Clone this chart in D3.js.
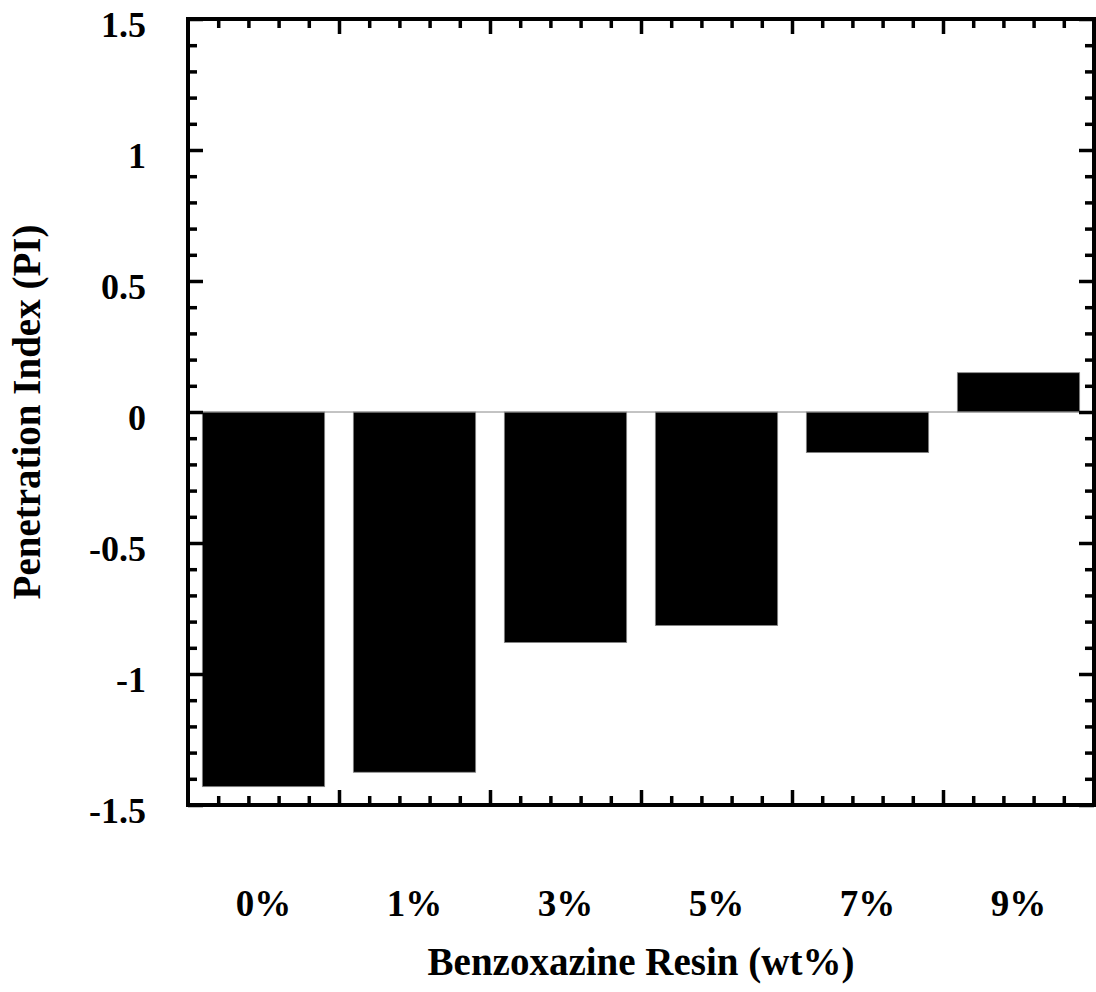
<!DOCTYPE html>
<html>
<head>
<meta charset="utf-8">
<script src="https://cdnjs.cloudflare.com/ajax/libs/d3/7.8.4/d3.min.js"></script>
<style>
  html, body { margin: 0; padding: 0; background: #fff; }
  svg text { font-family: "Liberation Serif", "Times New Roman", serif; font-weight: bold; fill: #000; }
  .axis path { display: none; }
  .axis line { stroke: #000; stroke-width: 3.5; }
</style>
</head>
<body>
<div id="chart"></div>
<script>
// data
const categories = ["0%", "1%", "3%", "5%", "7%", "9%"];
const piValues = [-1.43, -1.375, -0.88, -0.815, -0.155, 0.15];
const yMajor = [-1.5, -1, -0.5, 0, 0.5, 1, 1.5];
const yLabels = ["-1.5", "-1", "-0.5", "0", "0.5", "1", "1.5"];

(function () {
  const W = 1096, H = 992;
  const mLeft = 188, mRight = 1094, mTop = 19, mBottom = 805;

  const svg = d3.select("#chart").append("svg")
    .attr("width", W).attr("height", H);

  // scales
  const y = d3.scaleLinear().domain([-1.5, 1.5]).range([mBottom, mTop]);
  const xLin = d3.scaleLinear().domain([0, 6]).range([mLeft, mRight]);
  const x = d3.scaleBand().domain(categories).range([mLeft, mRight])
    .paddingInner(0.19).paddingOuter(0.095);

  // minor / major tick values
  const yMinor = d3.range(-15, 16).map(d => d / 10)
    .filter(d => Math.abs(d * 2 - Math.round(d * 2)) > 1e-6);
  const xMajor = [1, 2, 3, 4, 5];
  const xMinor = d3.range(1, 30).map(d => d / 5)
    .filter(d => Math.abs(d - Math.round(d)) > 1e-6);

  // bars
  svg.append("g").selectAll("rect")
    .data(piValues)
    .join("rect")
    .attr("x", (d, i) => x(categories[i]))
    .attr("width", x.bandwidth())
    .attr("y", d => y(Math.max(0, d)))
    .attr("height", d => Math.abs(y(d) - y(0)))
    .attr("fill", "#000")
    .attr("stroke", "#888")
    .attr("stroke-width", 0.8);

  // zero line across the bars
  svg.append("line")
    .attr("x1", x(categories[0]))
    .attr("x2", x(categories[categories.length - 1]) + x.bandwidth())
    .attr("y1", y(0)).attr("y2", y(0))
    .attr("stroke", "#888").attr("stroke-width", 1);

  // ticks on all four sides, pointing inward
  function ticks(axisFn, scale, values, size, transform) {
    svg.append("g").attr("class", "axis").attr("transform", transform)
      .call(axisFn(scale).tickValues(values).tickSize(size).tickFormat(""));
  }
  ticks(d3.axisLeft, y, yMinor, -9, `translate(${mLeft},0)`);
  ticks(d3.axisLeft, y, yMajor, -15, `translate(${mLeft},0)`);
  ticks(d3.axisRight, y, yMinor, -9, `translate(${mRight},0)`);
  ticks(d3.axisRight, y, yMajor, -15, `translate(${mRight},0)`);
  ticks(d3.axisBottom, xLin, xMinor, -9, `translate(0,${mBottom})`);
  ticks(d3.axisBottom, xLin, xMajor, -15, `translate(0,${mBottom})`);
  ticks(d3.axisTop, xLin, xMinor, -9, `translate(0,${mTop})`);
  ticks(d3.axisTop, xLin, xMajor, -15, `translate(0,${mTop})`);

  // frame
  svg.append("rect")
    .attr("x", mLeft).attr("y", mTop)
    .attr("width", mRight - mLeft).attr("height", mBottom - mTop)
    .attr("fill", "none").attr("stroke", "#000").attr("stroke-width", 4);

  // y tick labels
  svg.append("g").selectAll("text")
    .data(yMajor)
    .join("text")
    .attr("x", 146)
    .attr("y", d => y(d) + 18)
    .attr("text-anchor", "end")
    .style("font-size", "36px")
    .text((d, i) => yLabels[i]);

  // category labels
  svg.append("g").selectAll("text")
    .data(categories)
    .join("text")
    .attr("x", d => x(d) + x.bandwidth() / 2)
    .attr("y", 916)
    .attr("text-anchor", "middle")
    .style("font-size", "37px")
    .text(d => d);

  // axis titles
  svg.append("text")
    .attr("x", (mLeft + mRight) / 2)
    .attr("y", 975)
    .attr("text-anchor", "middle")
    .style("font-size", "39px")
    .text("Benzoxazine Resin (wt%)");

  svg.append("text")
    .attr("transform", `translate(40,${(mTop + mBottom) / 2}) rotate(-90)`)
    .attr("text-anchor", "middle")
    .style("font-size", "39px")
    .text("Penetration Index (PI)");
})();
</script>
</body>
</html>
